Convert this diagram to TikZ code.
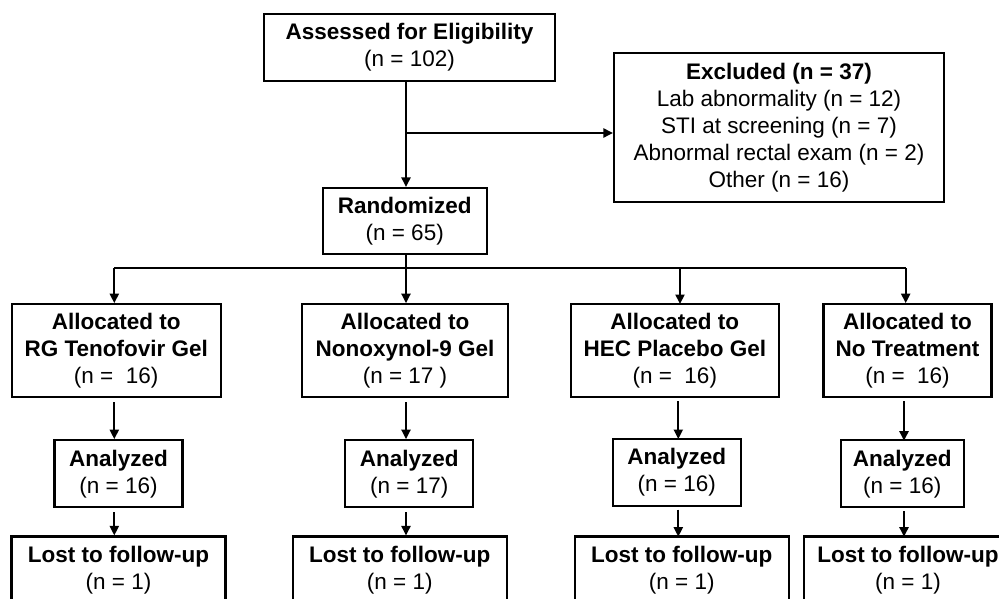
\documentclass[tikz,border=0pt]{standalone}
\usepackage{fontspec}
\setmainfont{Liberation Sans}
\usetikzlibrary{arrows.meta}

\tikzset{
  box/.style={draw, line width=2.1pt, align=center, inner sep=0pt,
    font=\fontsize{22.5pt}{27pt}\selectfont},
  arr/.style={-{Triangle[length=9.5pt,width=9pt]}, line width=2.1pt},
  ln/.style={line width=2.1pt}
}

\begin{document}
\begin{tikzpicture}[x=1pt, y=-1pt]
\useasboundingbox (0,0) rectangle (999,599);

% screening
\node[box, minimum width=291, minimum height=67] (assess) at (409.5, 47.5)
  {\textbf{Assessed for Eligibility}\\(n = 102)};
\node[box, minimum width=330, minimum height=149] (excl) at (779, 127.3)
  {\textbf{Excluded (n = 37)}\\Lab abnormality (n = 12)\\STI at screening (n = 7)\\Abnormal rectal exam (n = 2)\\Other (n = 16)};
\node[box, minimum width=164, minimum height=66] (rand) at (404.7, 221)
  {\textbf{Randomized}\\(n = 65)};

\coordinate (split) at (406, 133);
\coordinate (bus) at (406, 268);

\draw[arr] (assess.south -| split) -- (split |- rand.north);
\draw[arr] (split) -- (split -| excl.west);
\draw[ln] (split |- rand.south) -- (bus);

% allocation
\node[box, minimum width=209, minimum height=93] (g1) at (116.2, 350.7)
  {\textbf{Allocated to}\\\textbf{RG Tenofovir Gel}\\(n = \ 16)};
\node[box, minimum width=206, minimum height=93] (g2) at (405, 350.7)
  {\textbf{Allocated to}\\\textbf{Nonoxynol-9 Gel}\\(n = 17\ )};
\node[box, minimum width=208, minimum height=93] (g3) at (674.8, 350.7)
  {\textbf{Allocated to}\\\textbf{HEC Placebo Gel}\\(n = \ 16)};
\node[box, minimum width=168, minimum height=93] (g4) at (907.5, 350.7)
  {\textbf{Allocated to}\\\textbf{No Treatment}\\(n = \ 16)};

\coordinate (b1) at (114.3, 268);
\coordinate (b4) at (905.7, 268);
\draw[ln] (b1) -- (b4);
\draw[arr] (b1) -- (b1 |- g1.north);
\draw[arr] (bus) -- (bus |- g2.north);
\draw[arr] (680, 268) -- (680, 304);
\draw[arr] (b4) -- (b4 |- g4.north);

% analysis
\node[box, minimum width=128, minimum height=67] (a1) at (118.5, 473.7)
  {\textbf{Analyzed}\\(n = 16)};
\node[box, minimum width=128, minimum height=67] (a2) at (409.3, 473.7)
  {\textbf{Analyzed}\\(n = 17)};
\node[box, minimum width=128, minimum height=67] (a3) at (676.7, 472.3)
  {\textbf{Analyzed}\\(n = 16)};
\node[box, minimum width=123, minimum height=67] (a4) at (902.3, 473.8)
  {\textbf{Analyzed}\\(n = 16)};

\node[box, minimum width=214, minimum height=67] (l1) at (118.5, 570)
  {\textbf{Lost to follow-up}\\(n = 1)};
\node[box, minimum width=214, minimum height=67] (l2) at (399.8, 570)
  {\textbf{Lost to follow-up}\\(n = 1)};
\node[box, minimum width=214, minimum height=67] (l3) at (681.8, 570)
  {\textbf{Lost to follow-up}\\(n = 1)};
\node[box, minimum width=208, minimum height=67] (l4) at (908, 570)
  {\textbf{Lost to follow-up}\\(n = 1)};

\draw[arr, shorten <=4pt] (b1 |- g1.south) -- (b1 |- a1.north);
\draw[arr, shorten <=4pt] (bus |- g2.south) -- (bus |- a2.north);
\draw[arr, shorten <=4pt] (678.3, 397) -- (678.3, 439);
\draw[arr, shorten <=4pt] (904, 397) -- (904, 440.7);

\draw[arr, shorten <=4pt] (b1 |- a1.south) -- (b1 |- l1.north);
\draw[arr, shorten <=4pt] (bus |- a2.south) -- (bus |- l2.north);
\draw[arr, shorten <=4pt] (678.3, 505.7) -- (678.3, 536.7);
\draw[arr, shorten <=4pt] (904, 507) -- (904, 536.7);

\end{tikzpicture}
\end{document}
